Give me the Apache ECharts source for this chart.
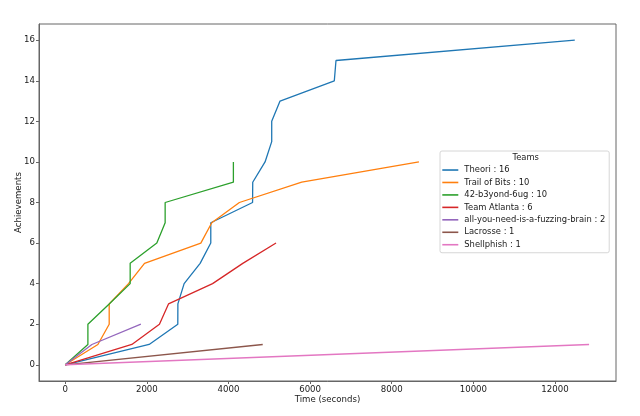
<!DOCTYPE html>
<html>
<head>
<meta charset="utf-8">
<script src="https://cdn.jsdelivr.net/npm/echarts@6/dist/echarts.min.js"></script>
<style>
html,body{margin:0;padding:0;background:#fff;}
#chart{width:640px;height:416px;}
</style>
</head>
<body>
<div id="chart"></div>
<script>
// ---- data ----
const teamNames = ["Theori", "Trail of Bits", "42-b3yond-6ug", "Team Atlanta", "all-you-need-is-a-fuzzing-brain", "Lacrosse", "Shellphish"];
const theoriTimes = [0, 2056, 2758, 2760, 2913, 3305, 3566, 3566, 4590, 4594, 4896, 5059, 5059, 5263, 6593, 6634, 12485];
const theoriScores = [0, 1, 2, 3, 4, 5, 6, 7, 8, 9, 10, 11, 12, 13, 14, 15, 16];
const trailTimes = [0, 800, 1077, 1077, 1550, 1942, 3322, 3590, 4267, 5794, 8666];
const trailScores = [0, 1, 2, 3, 4, 5, 6, 7, 8, 9, 10];
const b3yondTimes = [0, 555, 555, 1077, 1591, 1591, 2244, 2448, 2448, 4120, 4120];
const b3yondScores = [0, 1, 2, 3, 4, 5, 6, 7, 8, 9, 10];
const atlantaTimes = [0, 1632, 2308, 2530, 3610, 4350, 5165];
const atlantaScores = [0, 1, 2, 3, 4, 5, 6];
const fuzzTimes = [0, 653, 1853];
const fuzzScores = [0, 1, 2];
const lacrosseTimes = [0, 4839];
const lacrosseScores = [0, 1];
const shellTimes = [0, 12835];
const shellScores = [0, 1];
const xTicks = [0, 2000, 4000, 6000, 8000, 10000, 12000];
const yTicks = [0, 2, 4, 6, 8, 10, 12, 14, 16];

// ---- build ----
const allTimes = [theoriTimes, trailTimes, b3yondTimes, atlantaTimes, fuzzTimes, lacrosseTimes, shellTimes];
const allScores = [theoriScores, trailScores, b3yondScores, atlantaScores, fuzzScores, lacrosseScores, shellScores];
const colors = ["#1f77b4", "#ff7f0e", "#2ca02c", "#d62728", "#9467bd", "#8c564b", "#e377c2"];
const FONT = "DejaVu Sans";
const FS = 8.6;
const TXT = "#1a1a1a";

const series = teamNames.map((n, i) => {
  const t = allTimes[i], s = allScores[i];
  return {
    name: n + " : " + s[s.length - 1],
    type: "line",
    data: t.map((v, k) => [v, s[k]]),
    showSymbol: false,
    symbol: "none",
    lineStyle: { color: colors[i], width: 1.3 },
    itemStyle: { color: colors[i] },
    emphasis: { disabled: true },
    animation: false
  };
});

const chart = echarts.init(document.getElementById("chart"), null, { renderer: "canvas" });
chart.setOption({
  animation: false,
  backgroundColor: "#fff",
  textStyle: { fontFamily: FONT },
  grid: { left: 39, right: 24, top: 24, bottom: 35, show: true, borderColor: "#666", borderWidth: 1, containLabel: false },
  xAxis: {
    type: "value",
    min: -643, max: 13495,
    name: "Time (seconds)",
    nameLocation: "middle",
    nameGap: 14,
    nameMoveOverlap: false,
    nameTextStyle: { fontFamily: FONT, fontSize: FS, color: TXT },
    axisLine: { show: true, onZero: false, lineStyle: { color: "#666", width: 1 } },
    axisTick: { show: true, inside: false, length: 3, customValues: xTicks, lineStyle: { color: "#666" } },
    axisLabel: { customValues: xTicks, margin: 4, fontFamily: FONT, fontSize: FS, color: TXT, formatter: v => String(v) },
    splitLine: { show: false }
  },
  yAxis: {
    type: "value",
    min: -0.8, max: 16.8,
    name: "Achievements",
    nameLocation: "middle",
    nameGap: 16,
    nameMoveOverlap: false,
    nameTextStyle: { fontFamily: FONT, fontSize: FS, color: TXT },
    axisLine: { show: true, onZero: false, lineStyle: { color: "#666", width: 1 } },
    axisTick: { show: true, inside: false, length: 3, customValues: yTicks, lineStyle: { color: "#666" } },
    axisLabel: { customValues: yTicks, margin: 4, fontFamily: FONT, fontSize: FS, color: TXT, formatter: v => String(v) },
    splitLine: { show: false }
  },
  legend: {
    orient: "vertical",
    left: 440, top: 151,
    padding: [12.8, 4, 1.8, 2.3],
    backgroundColor: "#fff",
    borderColor: "#d6d6d6",
    borderWidth: 1,
    borderRadius: 2,
    itemWidth: 18,
    itemHeight: 1.6,
    itemGap: 0,
    icon: "path://M0,0L10,0L10,1L0,1Z",
    selectedMode: false,
    textStyle: { fontFamily: FONT, fontSize: 8.4, color: TXT, lineHeight: 12.45, padding: [0, 0, 0, 0] },
    data: series.map((s, i) => ({ name: s.name, itemStyle: { color: colors[i] } }))
  },
  graphic: [{
    type: "text",
    x: 525.7, y: 158.3,
    z: 100,
    style: { text: "Teams", font: "8.4px " + FONT, fill: TXT, textAlign: "center", textVerticalAlign: "middle" }
  }],
  series: series
});
</script>
</body>
</html>
